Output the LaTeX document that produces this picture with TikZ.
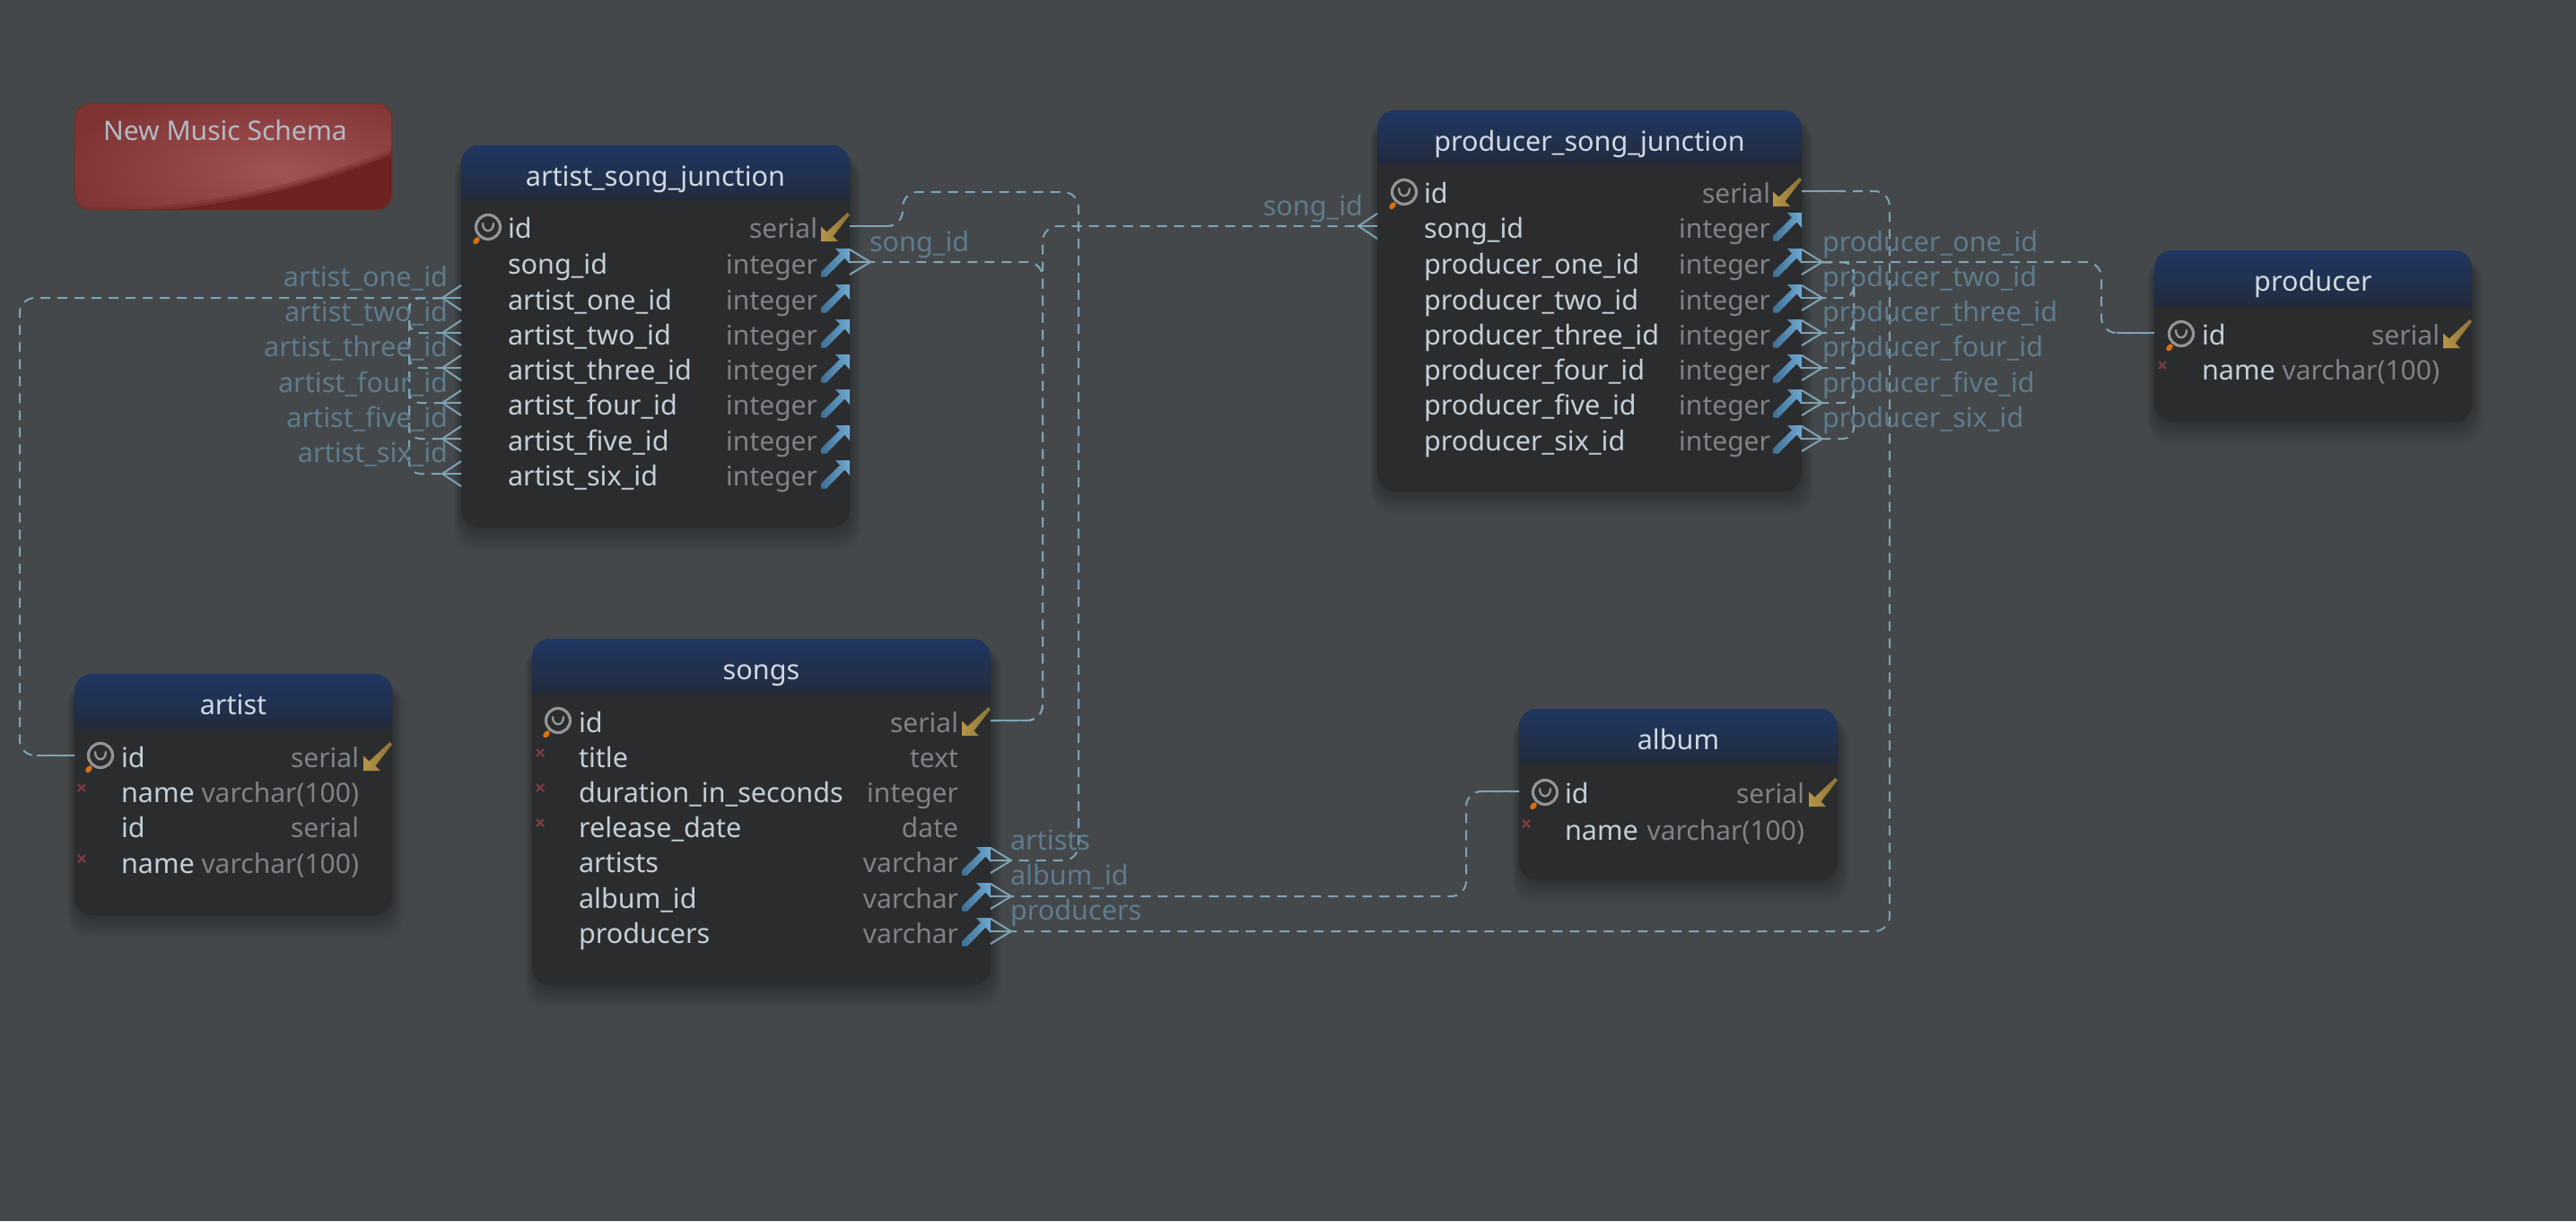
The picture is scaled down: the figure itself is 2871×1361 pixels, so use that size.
\documentclass[tikz,border=0pt]{standalone}
\usepackage{fontspec}
\setmainfont{Noto Sans}
\usetikzlibrary{calc}
\definecolor{bgc}{HTML}{44484B}
\definecolor{bodyc}{HTML}{2B2C2E}
\definecolor{headt}{HTML}{1F3763}
\definecolor{headb}{HTML}{222B3D}
\definecolor{namec}{HTML}{C4CFD8}
\definecolor{typec}{HTML}{808287}
\definecolor{titlec}{HTML}{D0D9E2}
\definecolor{conc}{HTML}{7FA3B3}
\definecolor{labc}{HTML}{5F7B8C}
\definecolor{starc}{HTML}{7C3C3E}
\definecolor{keyc}{HTML}{949494}
\definecolor{orangec}{HTML}{D9700F}
\definecolor{goldl}{HTML}{B69548}
\definecolor{goldr}{HTML}{8A7336}
\definecolor{bluel}{HTML}{3F6F94}
\definecolor{bluer}{HTML}{6FA9D2}
\definecolor{notedark}{HTML}{6E2222}
\definecolor{notemid}{HTML}{7F3333}
\definecolor{notelight}{HTML}{A25353}
\definecolor{noteline}{HTML}{5A3C30}
\definecolor{notetext}{HTML}{B2BAC6}
\newcommand\fsN{\fontsize{30.6}{36}\selectfont}
\newcommand\fsT{\fontsize{30}{36}\selectfont}
\tikzset{
  x=1pt,y=-1pt,
  tbody/.style={fill=bodyc,draw=none,rounded corners=20pt,inner sep=0pt,outer sep=0pt},
  rowname/.style={anchor=base west,inner sep=0pt,outer sep=0pt,text=namec,font=\fsN},
  rowtype/.style={anchor=base east,inner sep=0pt,outer sep=0pt,text=typec,font=\fsT},
  tabletitle/.style={anchor=base,inner sep=0pt,outer sep=0pt,text=titlec,font=\fsN},
  lab/.style={inner sep=0pt,outer sep=0pt,text=labc,font=\fsN},
  labl/.style={lab,anchor=base west},
  labr/.style={lab,anchor=base east},
  conn/.style={draw=conc,line width=2pt,dash pattern=on 11pt off 8pt,rounded corners=17pt},
  stub/.style={draw=conc,line width=2.4pt},
  foot/.style={draw=conc,line width=2pt},
}
% table: id, x1, y1, x2, y2, header bottom, title
\newcommand\tbl[7]{%
  \foreach \sh in {1,2,...,10}{
    \fill[black,opacity=.018,rounded corners=24pt]
      ({#2-\sh*.8},{#3+10}) rectangle ({#4+\sh*1.3},{#5+\sh*2.6});
  }
  \pgfmathsetmacro\cxx{(#2+#4)/2}
  \pgfmathsetmacro\cyy{(#3+#5)/2}
  \pgfmathsetmacro\wdd{#4-#2}
  \pgfmathsetmacro\htt{#5-#3}
  \node[tbody,minimum width=\wdd pt,minimum height=\htt pt] (#1) at (\cxx,\cyy) {};
  \shade[top color=headt,bottom color=headb]
    [sharp corners] (#2,#6) [rounded corners=20pt] -- (#2,#3) -- (#4,#3) [sharp corners] -- (#4,#6) -- cycle;
  \pgfmathsetmacro\tyy{#3+45}
  \node[tabletitle] (#1-title) at (\cxx,\tyy) {#7};
  \def\Lx{#2}\def\Rx{#4}%
}
% row: table id, row id, row y, name x, type right x, name, type
\newcommand\rw[7]{%
  \pgfmathsetmacro\byy{#3+13}
  \node[rowname] (#1-#2-n) at (#4,\byy) {#6};
  \node[rowtype] (#1-#2-t) at (#5,\byy) {#7};
  \coordinate (#1-#2-L) at (\Lx,#3);
  \coordinate (#1-#2-R) at (\Rx,#3);
}
% key icon: row y, circle x
\newcommand\pkicon[2]{%
  \begin{scope}[shift={(#2,#1)}]
    \draw[draw=orangec,line width=5.5pt,line cap=round] (-12,14) -- (-14,16.5);
    \draw[draw=keyc,line width=3.2pt] (0,0) circle (13.5pt);
    \draw[draw=keyc,line width=2.4pt,line cap=round] (-6,-4) .. controls (-6,7) and (6,7) .. (6,-4);
  \end{scope}%
}
\newcommand\goldicon[1]{%
  \begin{scope}[shift={(\Rx,#1)}]
    \shade[left color=goldl,right color=goldr]
      (-2.5,-15) -- (0,-12.5) -- (-18.5,11.5) -- (-13,17) -- (-32,17) -- (-32,0.5) -- (-25.5,6.5) -- cycle;
  \end{scope}%
}
\newcommand\blueicon[1]{%
  \begin{scope}[shift={(\Rx,#1)}]
    \shade[left color=bluel,right color=bluer]
      (0,-15) -- (0,2) -- (-5.5,-4.5) -- (-26,16.5) -- (-32,16.5) -- (-32,11) -- (-11,-9.5) -- (-16,-15) -- cycle;
  \end{scope}%
}
\newcommand\staricon[2]{%
  \draw[draw=starc,line width=2.2pt] (#1-4,#2-4) -- (#1+4,#2+4) (#1-4,#2+4) -- (#1+4,#2-4);
}
% crow's feet, apex away from the table
\newcommand\crowR[1]{%
  \draw[foot] (#1-R) -- ++(23,0) coordinate (#1-RA);
  \draw[foot] ([yshift=14pt]#1-R) -- (#1-RA) -- ([yshift=-14pt]#1-R);
}
\newcommand\crowL[1]{%
  \draw[foot] (#1-L) -- ++(-21,0) coordinate (#1-LA);
  \draw[foot] ([yshift=14pt]#1-L) -- (#1-LA) -- ([yshift=-14pt]#1-L);
}
\begin{document}
\begin{tikzpicture}
\useasboundingbox (0,0) rectangle (2871,1361);
\fill[bgc] (0,0) rectangle (2871,1361);

% note
\node[fill=notedark,draw=noteline,line width=1.5pt,rounded corners=17pt,inner sep=0pt,
      minimum width=354pt,minimum height=119pt] (note) at (260,174.5) {};
\begin{scope}
  \clip[rounded corners=17pt] (84,116) rectangle (436,233);
  \foreach \off/\op in {0/.33,-3/.5,-6/1}{
  \begin{scope}[opacity=\op]
    \clip (80,110) -- (440,110) -- (440,171+\off) .. controls (380,195+\off) and (290,225+\off) .. (170,236+\off) -- (80,236+\off) -- cycle;
    \fill[notemid] (70,100) rectangle (450,245);
    \shade[inner color=notelight,outer color=notemid] (312,190) ellipse (250pt and 95pt);
  \end{scope}
  }
\end{scope}
\node[anchor=base west,inner sep=0pt,outer sep=0pt,text=notetext,font=\fontsize{30}{36}\selectfont] (notetitle) at (115,156) {New Music Schema};

% artist_song_junction
\tbl{asj}{514}{162}{947}{588}{223}{artist\_song\_junction}
\rw{asj}{id}{252}{566}{911}{id}{serial}
\rw{asj}{song}{292}{566}{911}{song\_id}{integer}
\rw{asj}{one}{332}{566}{911}{artist\_one\_id}{integer}
\rw{asj}{two}{371}{566}{911}{artist\_two\_id}{integer}
\rw{asj}{three}{410}{566}{911}{artist\_three\_id}{integer}
\rw{asj}{four}{449}{566}{911}{artist\_four\_id}{integer}
\rw{asj}{five}{489}{566}{911}{artist\_five\_id}{integer}
\rw{asj}{six}{528}{566}{911}{artist\_six\_id}{integer}
\pkicon{253}{544}\goldicon{252}
\foreach \yy in {292,332,371,410,449,489,528}{\blueicon{\yy}}

% producer_song_junction
\tbl{psj}{1535}{123}{2008}{548}{183}{producer\_song\_junction}
\rw{psj}{id}{213}{1587}{1973}{id}{serial}
\rw{psj}{song}{252}{1587}{1973}{song\_id}{integer}
\rw{psj}{one}{292}{1587}{1973}{producer\_one\_id}{integer}
\rw{psj}{two}{332}{1587}{1973}{producer\_two\_id}{integer}
\rw{psj}{three}{371}{1587}{1973}{producer\_three\_id}{integer}
\rw{psj}{four}{410}{1587}{1973}{producer\_four\_id}{integer}
\rw{psj}{five}{449}{1587}{1973}{producer\_five\_id}{integer}
\rw{psj}{six}{489}{1587}{1973}{producer\_six\_id}{integer}
\pkicon{214}{1565}\goldicon{213}
\foreach \yy in {252,292,332,371,410,449,489}{\blueicon{\yy}}

% producer
\tbl{producer}{2401}{279}{2755}{470}{341}{producer}
\rw{producer}{id}{371}{2454}{2719}{id}{serial}
\rw{producer}{name}{410}{2454}{2719}{name}{varchar(100)}
\pkicon{372}{2431}\goldicon{371}\staricon{2410}{407}

% artist
\tbl{artist}{83}{751}{437}{1020}{812}{artist}
\rw{artist}{id}{842}{135}{400}{id}{serial}
\rw{artist}{name}{881}{135}{400}{name}{varchar(100)}
\rw{artist}{idb}{920}{135}{400}{id}{serial}
\rw{artist}{nameb}{960}{135}{400}{name}{varchar(100)}
\pkicon{842}{112}\goldicon{842}\staricon{91}{878}\staricon{91}{957}

% songs
\tbl{songs}{593}{712}{1104}{1098}{773}{songs}
\rw{songs}{id}{803}{645}{1068}{id}{serial}
\rw{songs}{title}{842}{645}{1068}{title}{text}
\rw{songs}{dur}{881}{645}{1068}{duration\_in\_seconds}{integer}
\rw{songs}{rel}{920}{645}{1068}{release\_date}{date}
\rw{songs}{artists}{959}{645}{1068}{artists}{varchar}
\rw{songs}{album}{999}{645}{1068}{album\_id}{varchar}
\rw{songs}{producers}{1038}{645}{1068}{producers}{varchar}
\pkicon{803}{622}\goldicon{803}\staricon{602}{839}\staricon{602}{878}\staricon{602}{917}
\foreach \yy in {959,999,1038}{\blueicon{\yy}}

% album
\tbl{album}{1693}{790}{2048}{981}{851}{album}
\rw{album}{id}{882}{1744}{2011}{id}{serial}
\rw{album}{name}{923}{1744}{2011}{name}{varchar(100)}
\pkicon{883}{1722}\goldicon{882}\staricon{1701}{918}

% crow's feet
\foreach \rr in {one,two,three,four,five,six}{\crowL{asj-\rr}}
\crowR{asj-song}
\crowL{psj-song}
\foreach \rr in {one,two,three,four,five,six}{\crowR{psj-\rr}}
\crowR{songs-artists}
\crowR{songs-album}
\crowR{songs-producers}

% connectors
\draw[conn] (asj-one-LA) -- ++(-471,0) |- (artist-id-L);
\foreach \rr in {two,three,four,five,six}{
  \draw[conn,rounded corners=12pt] (asj-one-LA) -- ++(-37,0) |- (asj-\rr-LA);
}
\draw[conn] (asj-id-R) -- ++(59,0) -- ++(0,-38) -- ++(196,0) |- (songs-artists-RA);
\draw[conn] (songs-id-R) -- ++(58,0) |- (asj-song-RA);
\draw[conn] (songs-id-R) -- ++(58,0) |- (psj-song-LA);
\draw[conn] (psj-id-R) -- ++(98,0) |- (songs-producers-RA);
\draw[conn] (psj-one-RA) -- ++(311,0) |- (producer-id-L);
\foreach \rr in {two,three,four,five,six}{
  \draw[conn,rounded corners=12pt] (psj-one-RA) -- ++(35,0) |- (psj-\rr-RA);
}
\draw[conn] (album-id-L) -- ++(-59,0) |- (songs-album-RA);
% solid starts
\draw[stub] (artist-id-L) -- ++(-42,0);
\draw[stub] (asj-id-R) -- ++(47,0);
\draw[stub] (songs-id-R) -- ++(44,0);
\draw[stub] (psj-id-R) -- ++(47,0);
\draw[stub] (producer-id-L) -- ++(-42,0);
\draw[stub] (album-id-L) -- ++(-43,0);

% connector labels
\node[labr] (l-a1) at (499,319) {artist\_one\_id};
\node[labr] (l-a2) at (499,358) {artist\_two\_id};
\node[labr] (l-a3) at (499,397) {artist\_three\_id};
\node[labr] (l-a4) at (499,437) {artist\_four\_id};
\node[labr] (l-a5) at (499,476) {artist\_five\_id};
\node[labr] (l-a6) at (499,515) {artist\_six\_id};
\node[labl] (l-s1) at (969,280) {song\_id};
\node[labr] (l-s2) at (1519,240) {song\_id};
\node[labl] (l-p1) at (2031,280) {producer\_one\_id};
\node[labl] (l-p2) at (2031,319) {producer\_two\_id};
\node[labl] (l-p3) at (2031,358) {producer\_three\_id};
\node[labl] (l-p4) at (2031,397) {producer\_four\_id};
\node[labl] (l-p5) at (2031,437) {producer\_five\_id};
\node[labl] (l-p6) at (2031,476) {producer\_six\_id};
\node[labl] (l-ar) at (1126,947) {artists};
\node[labl] (l-al) at (1126,986) {album\_id};
\node[labl] (l-pr) at (1126,1025) {producers};
\end{tikzpicture}
\end{document}
